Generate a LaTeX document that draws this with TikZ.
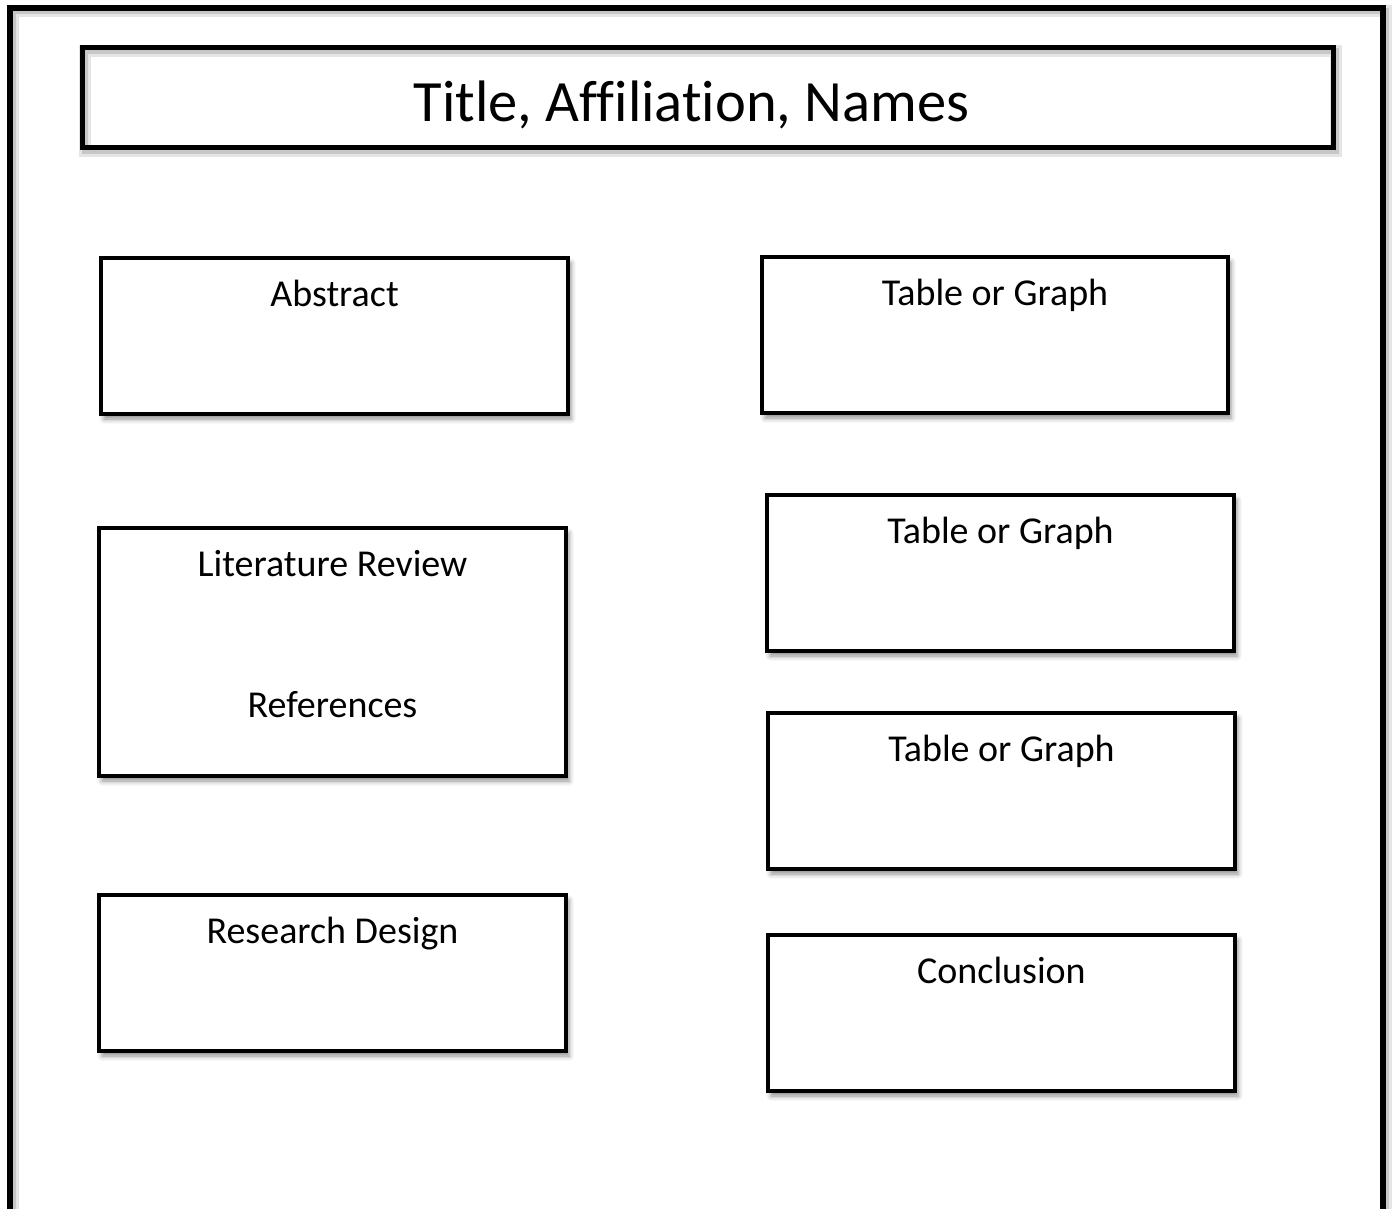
\documentclass[tikz,border=0pt]{standalone}
\usepackage{fontspec}
\setmainfont{Carlito}[Ligatures=NoCommon]
\usetikzlibrary{positioning,shadows.blur}

\tikzset{
    panel/.style={draw=black, line width=4pt, fill=white, inner sep=0pt, outer sep=0pt,
        minimum width=467pt, minimum height=156pt,
        blur shadow={shadow xshift=3pt, shadow yshift=-5pt, shadow blur radius=5pt, shadow opacity=45}},
    heading/.style={font=\fontsize{38}{42}\selectfont, inner sep=0pt, text height=27pt, text depth=8pt},
    rim/.style={line width=5pt,
        preaction={draw=black!10, line width=12pt, transform canvas={shift={(3pt,-3pt)}}},
        preaction={draw=black!22, line width=6pt, transform canvas={shift={(3pt,-3pt)}}}}
}

\begin{document}
\begin{tikzpicture}[x=1pt, y=-1pt]
    \useasboundingbox (0,0) rectangle (1393,1209);
    \clip (0,0) rectangle (1393,1209);
    \draw[rim, line width=6pt]
        (10,1215) -- (10,8) -- (1383,8) -- (1383,1215);
    \node[rim, draw, minimum width=1251pt, minimum height=100pt, inner sep=0pt, outer sep=0pt]
        (title) at (707.5,98) {};
    \node[heading, font=\fontsize{58.5}{62}\selectfont, text height=38pt, below=35pt of title.north, xshift=-16pt]
        (titletext) {Title, Affiliation, Names};

    % left column
    \node[panel] (abstract) at (334.5,336) {};
    \node[panel, minimum height=248pt] (litreview) at (332.5,652) {};
    \node[panel] (design) at (332.5,973) {};

    % right column
    \node[panel, minimum width=466pt] (graphA) at (995,335) {};
    \node[panel] (graphB) at (1000.5,573) {};
    \node[panel] (graphC) at (1001.5,791) {};
    \node[panel] (conclusion) at (1001.5,1013) {};

    \node[heading, below=21pt of abstract.north] (abstractlbl) {Abstract};
    \node[heading, below=21pt of litreview.north] (litlbl) {Literature Review};
    \node[heading, below=106pt of litlbl] (reflbl) {References};
    \node[heading, below=21pt of design.north] (designlbl) {Research Design};
    \node[heading, below=21pt of graphA.north] (graphAlbl) {Table or Graph};
    \node[heading, below=21pt of graphB.north] (graphBlbl) {Table or Graph};
    \node[heading, below=21pt of graphC.north] (graphClbl) {Table or Graph};
    \node[heading, below=21pt of conclusion.north] (conclusionlbl) {Conclusion};
\end{tikzpicture}
\end{document}
